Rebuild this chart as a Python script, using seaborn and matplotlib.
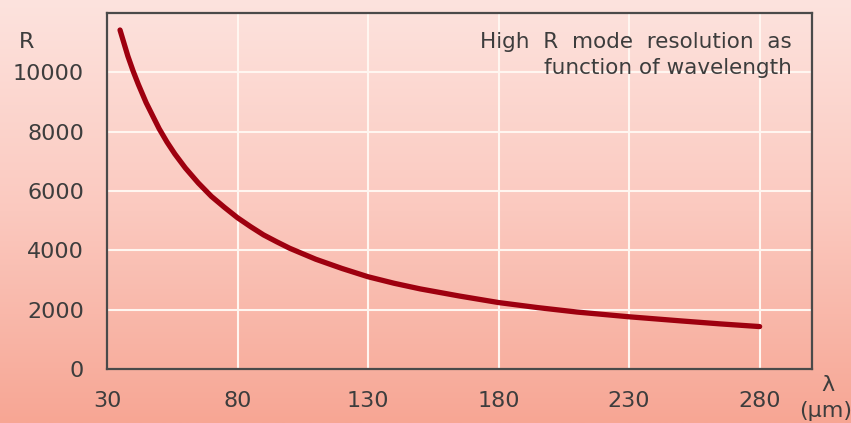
import numpy as np
import pandas as pd
import matplotlib
matplotlib.use("Agg")
import matplotlib.pyplot as plt
import seaborn as sns
from matplotlib.colors import LinearSegmentedColormap

# Data
wavelength = [35, 38, 40, 42, 45, 48, 50, 53, 56, 60, 65, 70, 75, 80, 85, 90, 95, 100,
              110, 120, 130, 140, 150, 165, 180, 195, 210, 230, 250, 265, 280]
resolution = [11430, 10550, 10050, 9600, 8980, 8450, 8100, 7650, 7250, 6780, 6270, 5820,
              5450, 5100, 4800, 4520, 4290, 4070, 3700, 3390, 3110, 2890, 2700, 2460,
              2240, 2070, 1920, 1760, 1620, 1520, 1430]
x_ticks = [30, 80, 130, 180, 230, 280]
y_ticks = [0, 2000, 4000, 6000, 8000, 10000]

df = pd.DataFrame({"wavelength": wavelength, "R": resolution})

sns.set_theme(style="white")
plt.rcParams['font.family'] = ['DejaVu Sans']

fig = plt.figure(figsize=(8.51, 4.23), dpi=100)

# Background gradient
bg = fig.add_axes([0, 0, 1, 1], zorder=-10)
cmap = LinearSegmentedColormap.from_list("bg", ["#fde3de", "#fbc9bf", "#f7a694"])
grad = np.linspace(0, 1, 256).reshape(-1, 1)
bg.imshow(grad, aspect="auto", cmap=cmap, extent=[0, 1, 0, 1], origin="upper")
bg.axis("off")

ax = fig.add_axes([0.1257, 0.1277, 0.954 - 0.1257, 0.969 - 0.1277])
ax.patch.set_alpha(0)

sns.lineplot(data=df, x="wavelength", y="R", ax=ax, color="#9e000f", linewidth=3.8,
             solid_capstyle="round", solid_joinstyle="round")

ax.set_xlim(30, 300)
ax.set_ylim(0, 12000)
ax.set_xticks(x_ticks)
ax.set_yticks(y_ticks + [12000])
ax.set_yticklabels([str(v) for v in y_ticks] + [""])
ax.set_xlabel("")
ax.set_ylabel("")
ax.grid(True, color="#fff6f0", linewidth=1.5)
ax.set_axisbelow(True)
ax.tick_params(axis="both", length=0, labelsize=16, colors="#3d3d3d")
ax.tick_params(axis="x", pad=16)
ax.tick_params(axis="y", pad=16.5)
for s in ax.spines.values():
    s.set_color("#4a4a4a")
    s.set_linewidth(1.6)

# Labels
fig.text(27 / 851, 1 - 42 / 423, "R", ha="center", va="center", fontsize=16, color="#3d3d3d")
fig.text(828 / 851, 1 - 385 / 423, "λ", ha="center", va="center", fontsize=16, color="#3d3d3d")
fig.text(826 / 851, 1 - 411 / 423, "(μm)", ha="center", va="center", fontsize=16, color="#3d3d3d")

ax.text(792 / 851, 1 - 55 / 423, "High  R  mode  resolution  as\nfunction of wavelength",
        transform=fig.transFigure, ha="right", va="center", fontsize=15.5,
        color="#3d3d3d", linespacing=1.35, multialignment="right")

fig.savefig("out.png", dpi=100)
